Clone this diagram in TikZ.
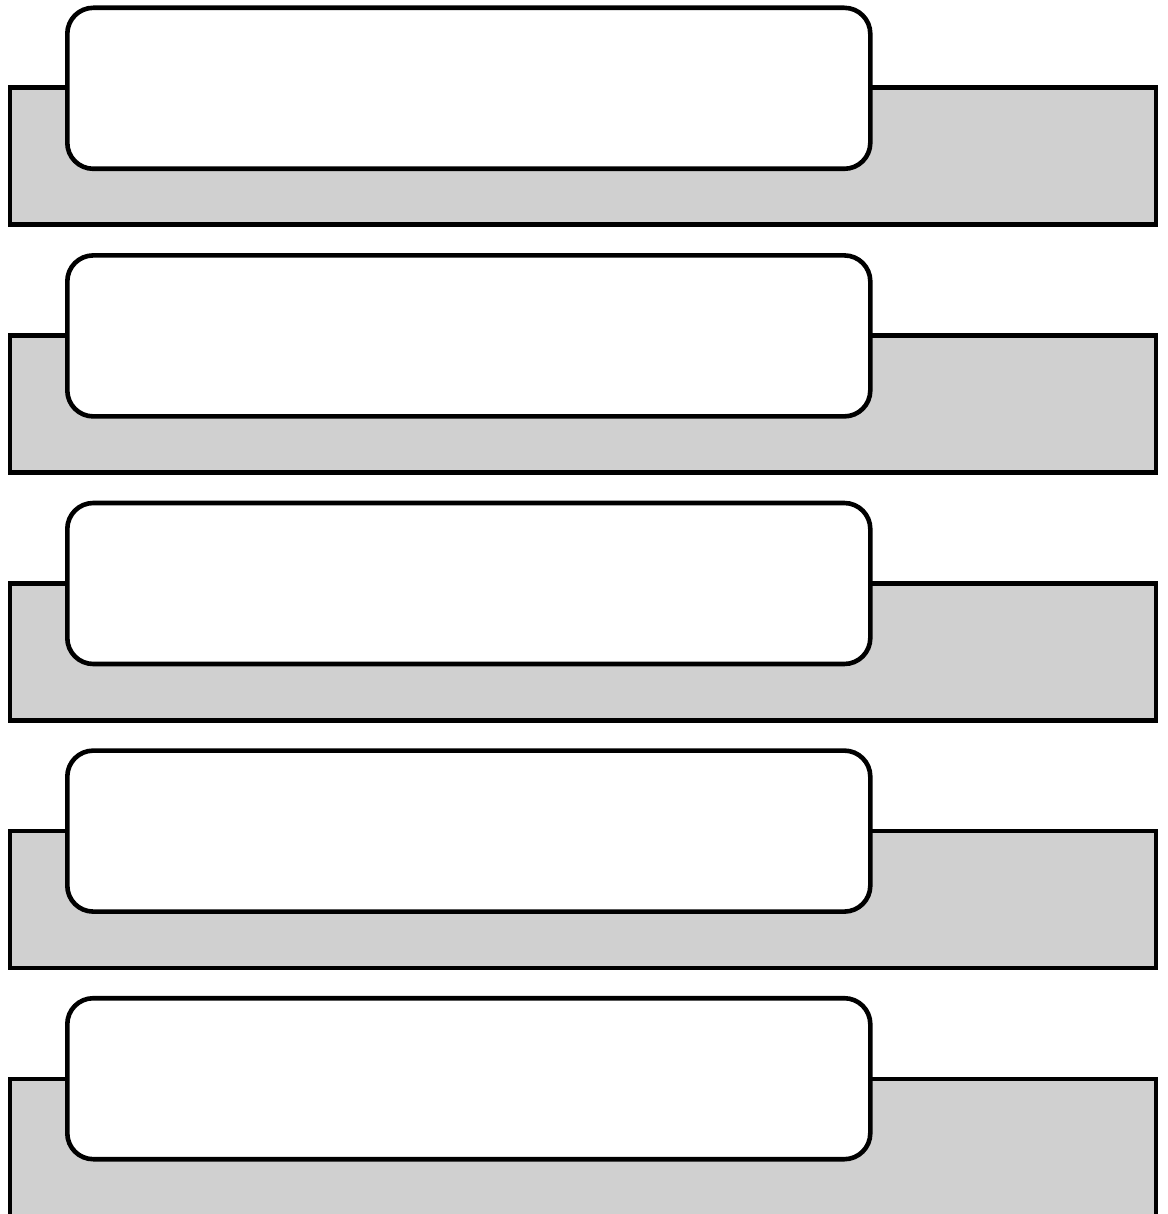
\documentclass[tikz,border=0pt]{standalone}
\begin{document}
\begin{tikzpicture}[x=1pt,y=-1pt,
  band/.style={draw=black,line width=4.6pt,fill=bandgray,rectangle,inner sep=0pt,minimum width=1146pt,minimum height=137pt,anchor=north west,line join=miter},
  card/.style={draw=black,line width=4.6pt,fill=white,rectangle,rounded corners=26pt,inner sep=0pt,minimum width=803pt,minimum height=161pt,anchor=north west}]
\definecolor{bandgray}{RGB}{208,208,208}
\useasboundingbox (0,0) rectangle (1167,1214);
\clip (0,0) rectangle (1167,1214);
\foreach \i in {0,...,4}{
  \node[band] (band\i) at (7.5,{85.5+247.75*\i}) {};
  \node[card] (card\i) at (65,{5.5+247.6*\i}) {};
}
\end{tikzpicture}
\end{document}
